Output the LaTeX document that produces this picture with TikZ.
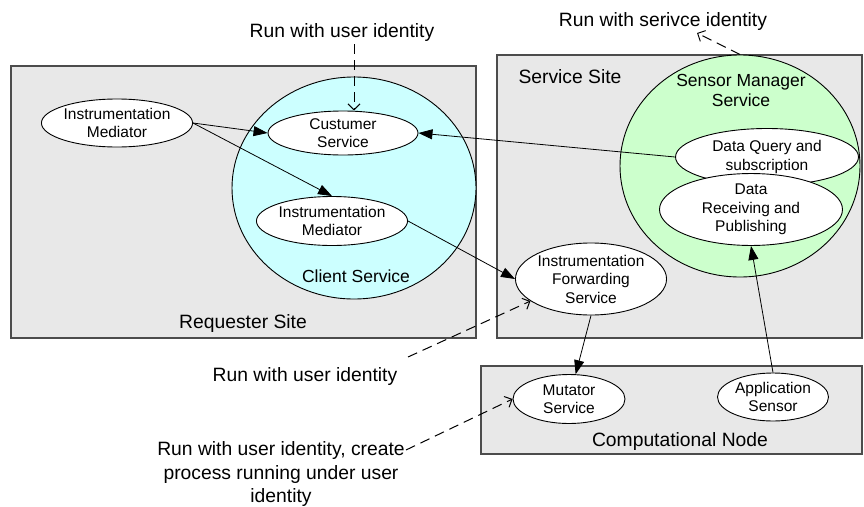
\documentclass[tikz,border=0pt]{standalone}
\usepackage{fontspec}
\setmainfont{Liberation Sans}
\usetikzlibrary{shapes.geometric,arrows.meta,calc}
\definecolor{sitegray}{HTML}{E8E8E8}
\definecolor{cyanbg}{HTML}{CCFFFF}
\definecolor{greenbg}{HTML}{CCFFCC}
\newcommand\lblfont{\fontsize{19.3}{23.5}\selectfont}
\newcommand\elfont{\fontsize{15.5}{18.5}\selectfont}
\newcommand\midfont{\fontsize{17.5}{20}\selectfont}
\begin{document}
\begin{tikzpicture}[x=1pt,y=-1pt,
  sitebox/.style={draw=black!70,fill=sitegray,line width=1.1pt,inner sep=0pt},
  bigcirc/.style={ellipse,draw=black,line width=0.9pt,inner sep=0pt},
  el/.style={ellipse,draw=black,fill=white,line width=0.9pt,inner sep=0pt,align=center,font=\elfont},
  lbl/.style={inner sep=0pt,align=center,font=\lblfont},
  flow/.style={line width=0.8pt,-{Triangle[length=14pt,width=10pt]}},
  ident/.style={line width=1pt,dash pattern=on 10pt off 6pt,-{Straight Barb[length=6pt,width=12pt]}}
]
\useasboundingbox (0,0) rectangle (864,506);
% site boxes
\node[sitebox,minimum width=465pt,minimum height=272pt] (req) at (243.5,202) {};
\node[sitebox,minimum width=365pt,minimum height=283pt] (srv) at (679.5,196.5) {};
\node[sitebox,minimum width=381pt,minimum height=88pt] (comp) at (671.5,410) {};
% service circles
\node[bigcirc,fill=cyanbg,minimum width=244pt,minimum height=222pt] (cli) at (354,188) {};
\node[bigcirc,fill=greenbg,minimum width=240pt,minimum height=222pt] (smc) at (740,166) {};
% texts of boxes and circles
\node[lbl] (reqt) at (243,324) {Requester Site};
\node[lbl] (srvt) at (570,77) {Service Site};
\node[lbl] (compt) at (680,442) {Computational Node};
\node[inner sep=0pt,font=\midfont] (clit) at (356,276) {Client Service};
\node[inner sep=0pt,align=center,font=\midfont] (smct) at (741,90) {Sensor Manager\\Service};
% ellipses
\node[el,minimum width=145pt,minimum height=48pt] (iml) at (117,123) {Instrumentation\\Mediator};
\node[el,minimum width=150pt,minimum height=44pt] (cust) at (343,133) {Custumer\\Service};
\node[el,minimum width=151pt,minimum height=49pt] (imi) at (332,221) {Instrumentation\\Mediator};
\node[el,minimum width=183pt,minimum height=57pt] (dq) at (767,157) {Data Query and\\subscription};
\node[el,minimum width=183pt,minimum height=65pt] (dr) at (751,209.5) {Data\\Receiving and\\Publishing};
\node[el,minimum width=144pt,minimum height=72pt] (ifs) at (591,279) {Instrumentation\\Forwarding\\Service};
\node[el,minimum width=112pt,minimum height=49pt] (mut) at (569,399) {Mutator\\Service};
\node[el,minimum width=111pt,minimum height=48pt] (app) at (773,397) {Application\\Sensor};
% labels
\node[lbl] (lab1) at (342,33) {Run with user identity};
\node[lbl] (lab2) at (663,22) {Run with serivce identity};
\node[lbl] (lab3) at (305,377) {Run with user identity};
\node[lbl] (lab4) at (281,474.5) {Run with user identity, create\\process running under user\\identity};
% solid flows
\draw[flow] (iml.east) -- (cust.west);
\draw[flow] (iml.east) -- (imi.north);
\draw[flow] (imi.east) -- (ifs.west);
\draw[flow] (dq.west) -- (cust.east);
\draw[flow] (ifs.south) -- (mut.75);
\draw[flow] (app.north) -- (dr.south);
% identity connectors
\coordinate (c1) at (354,44);
\draw[ident] (c1) -- (c1 |- cust.north);
\coordinate (c2) at (697,33);
\draw[ident] (smc.north) -- (c2);
\coordinate (c3) at (408,357);
\draw[ident] (c3) -- (ifs.200);
\coordinate (c4) at (406,450);
\draw[ident] (c4) -- (mut.west);
\end{tikzpicture}
\end{document}
